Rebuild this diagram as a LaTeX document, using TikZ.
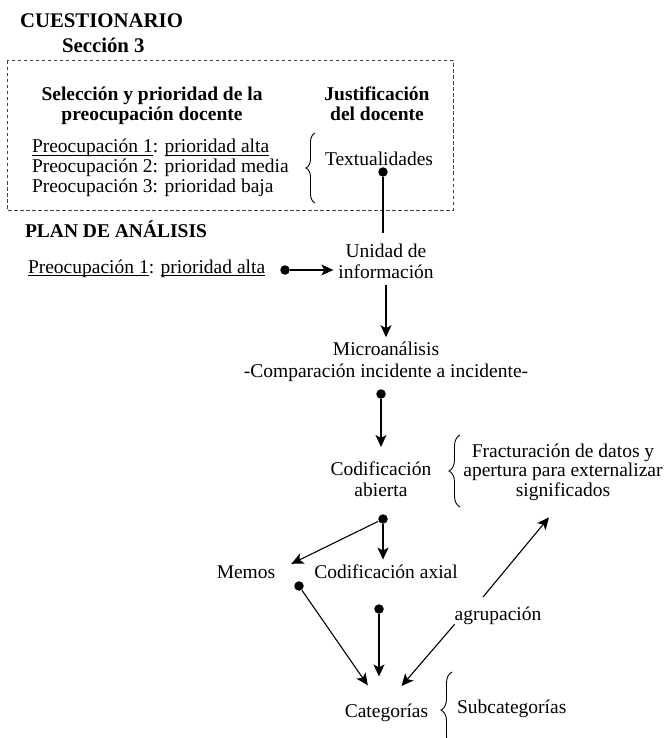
\documentclass[tikz,border=0pt]{standalone}
\usepackage{fontspec}
\setmainfont{Liberation Serif}
\usetikzlibrary{arrows.meta,decorations.pathreplacing}

\newcommand\ulin[1]{\setbox0\hbox{#1}\rlap{\rule[-3pt]{\wd0}{0.7pt}}\box0}

\tikzset{
  txt/.style={inner sep=0pt, outer sep=0pt, align=center, font=\fontsize{19.5}{21}\selectfont},
  head/.style={txt, font=\fontsize{19.5}{20}\selectfont\bfseries},
  title/.style={txt, font=\fontsize{20.8}{22}\selectfont\bfseries},
  dot/.style={circle, fill=black, inner sep=0pt, minimum size=9.5pt},
  arr/.style={-{Stealth[length=12pt,width=11pt,inset=3pt]}},
  brc/.style={decorate, decoration={brace, amplitude=#1}, line width=0.9pt},
}

\begin{document}
\begin{tikzpicture}[x=1pt, y=-1pt, line width=1.1pt]
  \useasboundingbox (0,0) rectangle (665,738);

  % Cuestionario
  \node (cuest) at (20,28) [title, anchor=base west] {CUESTIONARIO};
  \node (secc) at (62,53) [title, anchor=base west] {Sección 3};
  \draw[dash pattern=on 3.5pt off 2.5pt, line width=1pt, black!75] (7,61) rectangle (453,210);
  \node (selec) at (152,86.7) [head, anchor=north] {Selección y prioridad de la\\preocupación docente};
  \node (justif) at (377,86.7) [head, anchor=north] {Justificación\\del docente};
  \node (preoc) at (32,138.7) [txt, anchor=north west, align=left, font=\fontsize{19.5}{20}\selectfont]
    {\ulin{Preocupación 1}: \ulin{prioridad alta}\\Preocupación 2: prioridad media\\Preocupación 3: prioridad baja};
  \node (textual) at (325,165) [txt, anchor=base west] {Textualidades};
  \draw[brc=9pt] (315,203) -- (315,133);

  % Plan de analisis
  \node (plan) at (25,237) [head, anchor=base west] {PLAN DE ANÁLISIS};
  \node (preoc1) at (28,273) [txt, anchor=base west] {\ulin{Preocupación 1}: \ulin{prioridad alta}};
  \node (unidad) at (386,243.7) [txt, anchor=north] {Unidad de\\información};
  \node (micro) at (386,341.7) [txt, anchor=north, font=\fontsize{19.5}{22}\selectfont]
    {Microanálisis\\-Comparación incidente a incidente-};
  \node (codab) at (381,461.7) [txt, anchor=north] {Codificación\\abierta};
  \node (fract) at (563,443.7) [txt, anchor=north, font=\fontsize{19.5}{19.5}\selectfont]
    {Fracturación de datos y\\apertura para externalizar\\significados};
  \draw[brc=11pt] (460,507) -- (460,435);
  \node (memos) at (246,578) [txt, anchor=base] {Memos};
  \node (codax) at (386,578) [txt, anchor=base] {Codificación axial};
  \node (agrup) at (498,620) [txt, anchor=base] {agrupación};
  \node (categ) at (386.5,717) [txt, anchor=base] {Categorías};
  \node (subcat) at (457,713) [txt, anchor=base west] {Subcategorías};
  \draw[brc=11pt] (452,748) -- (452,672);

  % Dots
  \node (d1) at (383,172) [dot] {};
  \node (d2) at (285,270) [dot] {};
  \node (d3) at (381,394) [dot] {};
  \node (d4) at (383,519) [dot] {};
  \node (d5) at (299,586) [dot] {};
  \node (d6) at (379,609) [dot] {};
  \coordinate (g2) at (483,597);

  % Connectors
  \draw[shorten >=11pt] (d1) -- (d1 |- unidad.north);
  \draw[arr, shorten >=5pt] (d2) -- (d2 -| unidad.west);
  \draw[arr, shorten <=7pt, shorten >=4.5pt] (unidad.south) -- (micro.north);
  \draw[arr, shorten >=14.7pt] (d3) -- (d3 |- codab.north);
  \draw[arr, shorten >=4.7pt] (d4) -- (d4 |- codax.north);
  \draw[arr, shorten >=18pt] (d4) -- (memos.east);
  \draw[arr, shorten >=22pt] (d5) -- (categ);
  \draw[arr, shorten >=27pt] (d6) -- (d6 |- categ.north);
  \draw[arr, shorten >=23pt] (agrup.south west) -- (categ.north);
  \draw[arr, shorten >=22pt] (g2) -- (fract.south);
\end{tikzpicture}
\end{document}
